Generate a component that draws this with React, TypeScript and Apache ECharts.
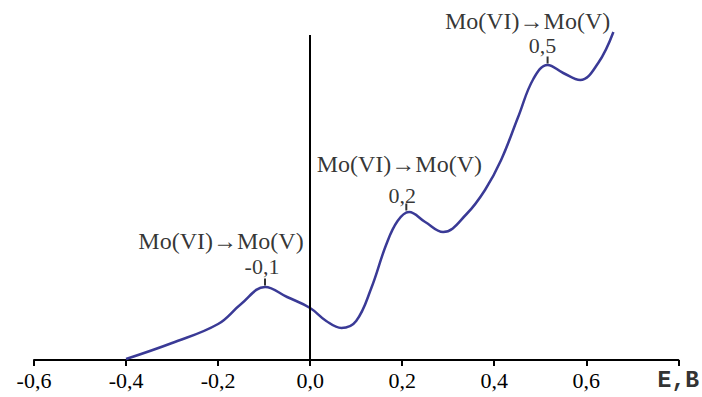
import React, { useEffect, useRef } from "react";
import * as echarts from "echarts";

const curveX = [-0.4, -0.3, -0.2, -0.15, -0.098, -0.05, 0.0, 0.035, 0.068, 0.1, 0.133, 0.165, 0.19, 0.215, 0.25, 0.289, 0.34, 0.38, 0.415, 0.452, 0.485, 0.516, 0.55, 0.587, 0.626, 0.659];
const curveY = [1, 17, 36, 56, 73, 63, 52, 39, 32, 39, 72, 115, 139, 148, 138, 128, 146, 170, 200, 243, 281, 295, 287, 280, 297, 328];

const peakX = [-0.098, 0.209, 0.516];
const peakY = [73, 148, 295];
const peakLabels = ["-0,1", "0,2", "0,5"];
const transitionLabel = "Mo(VI)→Mo(V)";
const headerOffsetX = [-44, -7, -20];
const headerOffsetY = [-46, -48, -44];
const valueOffsetX = [-3, -4, -5];
const valueOffsetY = [-21, -17, -20];

const xTicks = [-0.6, -0.4, -0.2, 0.0, 0.2, 0.4, 0.6, 0.8];
const xTickLabels = ["-0,6", "-0,4", "-0,2", "0,0", "0,2", "0,4", "0,6", "E,B"];

export default function App() {
  const ref = useRef<HTMLDivElement>(null);
  useEffect(() => {
    if (!ref.current) return;
    const chart = echarts.init(ref.current, null, { renderer: "svg" });
    const serif = "'Liberation Serif', 'Times New Roman', serif";
    const curveData = curveX.map((x, i) => [x, curveY[i]]);
    chart.setOption({
      animation: false,
      backgroundColor: "#ffffff",
      grid: { left: 34, right: 22, top: 30, bottom: 37 },
      xAxis: {
        type: "value",
        min: -0.6,
        max: 0.8,
        interval: 0.2,
        axisLine: { show: true, onZero: false, lineStyle: { color: "#000", width: 2 } },
        axisTick: { show: true, length: 6, lineStyle: { color: "#000", width: 2 } },
        splitLine: { show: false },
        axisLabel: {
          margin: 9,
          color: "#000",
          fontFamily: serif,
          fontSize: 22,
          formatter: (v: number) => {
            const i = xTicks.findIndex((t) => Math.abs(t - v) < 1e-6);
            if (i < 0) return "";
            if (i === xTicks.length - 1) return "{m|" + xTickLabels[i] + "}";
            return "{s|" + xTickLabels[i] + "}";
          },
          rich: {
            s: { fontFamily: serif, fontSize: 22, color: "#000" },
            m: { fontFamily: "'Liberation Mono', 'Courier New', monospace", fontSize: 23, color: "#333", fontWeight: "bold" },
          },
        },
      },
      yAxis: {
        type: "value",
        min: 0,
        max: 330,
        show: false,
      },
      series: [
        {
          type: "line",
          data: curveData,
          smooth: 0.4,
          showSymbol: false,
          lineStyle: { color: "#3a3a96", width: 2.5 },
          markLine: {
            silent: true,
            symbol: "none",
            label: { show: false },
            lineStyle: { color: "#000", width: 2, type: "solid" },
            data: [[{ coord: [0, 0] }, { coord: [0, 325] }]],
          },
          z: 3,
        },
        {
          type: "scatter",
          data: peakX.map((x, i) => [x, peakY[i]]),
          symbol: "rect",
          symbolSize: [2, 7],
          symbolOffset: [0, -5],
          itemStyle: { color: "#000" },
          z: 4,
        },
        {
          type: "scatter",
          data: peakX.map((x, i) => ({
            value: [x, peakY[i]],
            label: { offset: [valueOffsetX[i], valueOffsetY[i]], formatter: peakLabels[i] },
          })),
          symbolSize: 1,
          itemStyle: { color: "rgba(0,0,0,0)" },
          label: { show: true, position: "inside", color: "#000", fontFamily: serif, fontSize: 22 },
          z: 5,
        },
        {
          type: "scatter",
          data: peakX.map((x, i) => ({
            value: [x, peakY[i]],
            label: { offset: [headerOffsetX[i], headerOffsetY[i]], formatter: transitionLabel },
          })),
          symbolSize: 1,
          itemStyle: { color: "rgba(0,0,0,0)" },
          label: { show: true, position: "inside", color: "#000", fontFamily: serif, fontSize: 24 },
          z: 5,
        },
      ],
    });
    return () => chart.dispose();
  }, []);
  return <div ref={ref} style={{ width: 702, height: 397, position: "absolute", left: 0, top: 0 }} />;
}
